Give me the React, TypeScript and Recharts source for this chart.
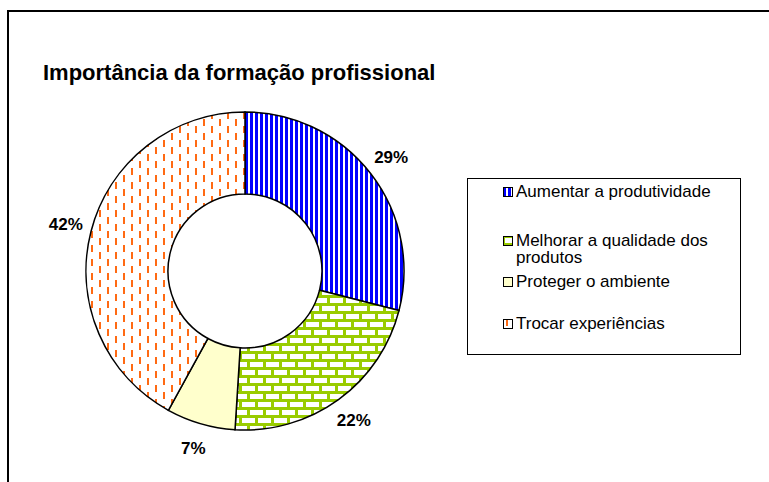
import { PieChart, Pie, Cell, Legend } from 'recharts';

const categories = [
  'Aumentar a produtividade',
  'Melhorar a qualidade dos produtos',
  'Proteger o ambiente',
  'Trocar experiências',
];
const shares = [29, 22, 7, 42];
const fills = ['url(#stripes)', 'url(#bricks)', '#ffffcc', 'url(#dashes)'];

const data = categories.map((name, i) => ({ name, value: shares[i] }));
const total = shares.reduce((a, b) => a + b, 0);

const RADIAN = Math.PI / 180;
const font = '"Liberation Sans", Arial, sans-serif';

function renderLabel(props: any) {
  const { cx, cy, midAngle, outerRadius, value } = props;
  const r = outerRadius + 26;
  const x = cx + r * Math.cos(-midAngle * RADIAN);
  const y = cy + r * Math.sin(-midAngle * RADIAN);
  return (
    <text
      x={x}
      y={y}
      textAnchor="middle"
      dominantBaseline="central"
      fontFamily={font}
      fontWeight="bold"
      fontSize={17}
      fill="#000"
    >
      {`${Math.round((value / total) * 100)}%`}
    </text>
  );
}

// legend rows, top offsets inside the box
const rowTops = [4, 53, 94, 136];

function LegendBox() {
  return (
    <div
      style={{
        position: 'relative',
        width: 272,
        height: 175,
        border: '1px solid #000',
        background: '#fff',
        fontFamily: font,
        fontSize: 17,
        lineHeight: '17px',
        color: '#000',
      }}
    >
      {categories.map((c, i) => (
        <div
          key={c}
          style={{ position: 'absolute', left: 35, top: rowTops[i], width: 230, display: 'flex' }}
        >
          <svg width={10} height={10} style={{ marginTop: 4, marginRight: 3, flex: 'none' }}>
            <rect x={0.5} y={0.5} width={9} height={9} fill={fills[i]} stroke="#000" />
          </svg>
          <span>{c}</span>
        </div>
      ))}
    </div>
  );
}

export default function App() {
  return (
    <div style={{ position: 'relative', width: 769, height: 482, overflow: 'hidden', background: '#fff' }}>
      <style>{'body{margin:0;overflow:hidden}'}</style>
      <div
        style={{
          position: 'absolute',
          left: 7,
          top: 10,
          width: 800,
          height: 520,
          border: '2px solid #000',
        }}
      />
      <div
        style={{
          position: 'absolute',
          left: 43,
          top: 60,
          fontFamily: font,
          fontWeight: 'bold',
          fontSize: 22,
          color: '#000',
          whiteSpace: 'nowrap',
        }}
      >
        Importância da formação profissional
      </div>
      <div style={{ position: 'absolute', left: 0, top: 0 }}>
        <PieChart width={769} height={482} margin={{ top: 0, right: 0, bottom: 0, left: 0 }}>
          <defs>
            <pattern id="stripes" width={5} height={6} patternUnits="userSpaceOnUse">
              <rect width={5} height={6} fill="#fff" />
              <rect x={0} width={3} height={6} fill="#0000ff" />
            </pattern>
            <pattern id="bricks" width={16} height={16} patternUnits="userSpaceOnUse">
              <rect width={16} height={16} fill="#99cc00" />
              <rect x={2} y={2} width={13} height={5} fill="#fff" />
              <rect x={10} y={10} width={13} height={5} fill="#fff" />
              <rect x={-6} y={10} width={13} height={5} fill="#fff" />
            </pattern>
            <pattern id="dashes" width={16} height={14} patternUnits="userSpaceOnUse">
              <rect width={16} height={14} fill="#fff" />
              <rect x={3} y={0} width={2} height={7} fill="#ff6a13" />
              <rect x={11} y={7} width={2} height={7} fill="#ff6a13" />
            </pattern>
          </defs>
          <Pie
            data={data}
            dataKey="value"
            nameKey="name"
            cx={245}
            cy={271}
            innerRadius={77}
            outerRadius={159}
            startAngle={90}
            endAngle={-270}
            stroke="#000"
            strokeWidth={1.5}
            label={renderLabel}
            labelLine={false}
            isAnimationActive={false}
          >
            {data.map((d, i) => (
              <Cell key={d.name} fill={fills[i]} />
            ))}
          </Pie>
          <Legend
            layout="vertical"
            content={() => <LegendBox />}
            wrapperStyle={{ left: 467, top: 178, width: 274, height: 177, bottom: 'auto' }}
          />
        </PieChart>
      </div>
    </div>
  );
}
